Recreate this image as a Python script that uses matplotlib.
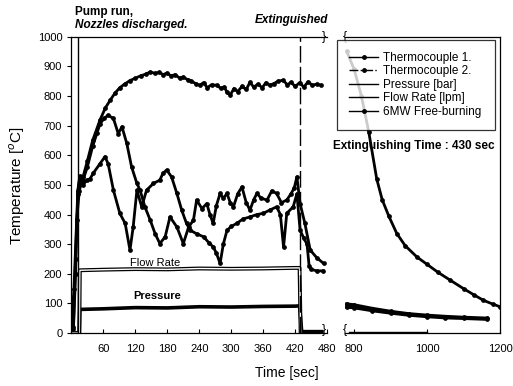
import numpy as np
import matplotlib
matplotlib.use('Agg')
import matplotlib.pyplot as plt
from matplotlib.lines import Line2D

plt.rcParams['font.family'] = ['Liberation Sans', 'DejaVu Sans']

# 热电偶1 (左段)
tc1_t = [0, 4, 8, 12, 16, 22, 30, 40, 48, 54, 62, 69, 79, 88, 95, 104, 113, 123, 129, 138,
         148, 157, 166, 176, 185, 198, 210, 220, 229, 235, 245, 254, 260, 266, 272, 279, 285,
         292, 298, 304, 312, 320, 328, 335, 342, 348, 356, 367, 376, 385, 394, 404, 412, 418,
         423, 429, 438, 448, 460, 473]
tc1_T = [5, 20, 250, 480, 530, 516, 560, 630, 674, 707, 725, 735, 724, 673, 696, 640, 561, 505,
         482, 426, 381, 336, 302, 325, 392, 358, 302, 358, 381, 449, 420, 437, 400, 370, 430,
         471, 455, 471, 440, 426, 470, 493, 440, 415, 450, 471, 455, 449, 480, 471, 440, 449,
         470, 490, 527, 437, 370, 280, 255, 235]
# 热电偶2 (左段)
tc2_t = [0, 4, 8, 12, 16, 22, 29, 35, 41, 54, 63, 69, 79, 91, 101, 110, 116, 123, 132, 141,
         154, 166, 172, 179, 188, 198, 207, 216, 223, 235, 248, 258, 266, 272, 279, 285, 292,
         300, 310, 322, 335, 348, 360, 372, 385, 392, 398, 404, 416, 423, 429, 436, 442, 446,
         450, 460, 472]
tc2_T = [5, 15, 200, 470, 527, 500, 516, 520, 539, 572, 595, 572, 482, 404, 370, 280, 358, 482,
         426, 482, 505, 516, 540, 550, 527, 471, 415, 370, 347, 335, 325, 305, 291, 270, 235,
         300, 347, 360, 370, 385, 392, 400, 404, 415, 426, 400, 290, 404, 426, 470, 347, 320,
         300, 225, 215, 210, 210]
# 6MW 自由燃烧
fb_t = [0, 5, 10, 15, 22, 30, 40, 54, 64, 73, 82, 91, 100, 110, 120, 130, 140, 148, 157, 165,
        172, 179, 187, 195, 203, 210, 218, 225, 233, 241, 248, 255, 263, 273, 280, 287, 292,
        298, 305, 312, 320, 328, 335, 342, 350, 358, 365, 372, 380, 388, 397, 405, 412, 420,
        428, 436, 444, 452, 460, 468]
fb_T = [20, 150, 380, 480, 527, 580, 650, 720, 760, 786, 810, 828, 840, 852, 860, 868, 874, 881,
        876, 880, 872, 877, 868, 872, 860, 864, 855, 850, 842, 836, 845, 828, 838, 836, 826,
        830, 812, 803, 825, 815, 832, 822, 846, 830, 840, 828, 845, 836, 842, 850, 853, 838,
        846, 832, 845, 830, 848, 836, 840, 836]
# 压力和流量
pr_t = [0, 15, 16, 60, 120, 180, 240, 300, 360, 420, 428, 432, 470]
pr_v = [0, 0, 80, 82, 86, 85, 89, 88, 90, 91, 92, 5, 5]
fl_t = [0, 15, 16, 60, 120, 180, 240, 300, 360, 420, 428, 430]
fl_v = [0, 0, 212, 214, 216, 215, 218, 217, 218, 220, 220, 0]

# 右段 (800~1200 s)
fb2_t = [780, 800, 820, 840, 862, 877, 895, 917, 940, 972, 1000, 1030, 1063, 1100, 1130, 1154, 1180, 1200]
fb2_T = [950, 890, 800, 680, 520, 450, 395, 336, 295, 257, 232, 205, 179, 150, 128, 111, 98, 89]
tc_r_t = [780, 800, 850, 900, 950, 1000, 1050, 1100, 1165]
tc1_r_T = [98, 95, 83, 73, 65, 60, 56, 53, 50]
tc2_r_T = [88, 86, 76, 68, 61, 56, 52, 50, 47]
pr_r_t = [785, 1000]
pr_r_v = [4, 4]

left_ticks = [60, 120, 180, 240, 300, 360, 420, 480]
right_ticks = [800, 1000, 1200]

fig = plt.figure(figsize=(5.13, 3.86), dpi=100)
ax1 = fig.add_axes([0.139, 0.137, 0.499, 0.768])
ax2 = fig.add_axes([0.6725, 0.137, 0.3022, 0.768])

ms = 2.4
ax1.plot(fb_t, fb_T, color='k', lw=2.0, marker='o', ms=ms)
ax1.plot(tc1_t, tc1_T, color='k', lw=2.0, marker='o', ms=ms)
ax1.plot(tc2_t, tc2_T, color='k', lw=2.0, marker='o', ms=ms)
ax1.plot(pr_t, pr_v, color='k', lw=2.6)
ax1.plot(fl_t, fl_v, color='k', lw=2.8)
ax1.plot(fl_t, fl_v, color='white', lw=1.0)
ax1.axvline(12, color='k', lw=1)
ax1.axvline(428, color='k', lw=1, ls=(0, (12, 3)))

ax2.plot(fb2_t, fb2_T, color='k', lw=2.0, marker='o', ms=ms)
ax2.plot(tc_r_t, tc1_r_T, color='k', lw=2.4, marker='o', ms=ms)
ax2.plot(tc_r_t, tc2_r_T, color='k', lw=2.4, marker='o', ms=ms)
ax2.plot(pr_r_t, pr_r_v, color='k', lw=1)

for ax in (ax1, ax2):
    ax.set_ylim(0, 1000)
    ax.tick_params(axis='x', direction='in', length=3, labelsize=8, pad=8)
    ax.tick_params(axis='y', direction='out', length=3, labelsize=8)
    for s in ax.spines.values():
        s.set_linewidth(0.9)

ax1.set_xlim(0, 480)
ax1.set_xticks(left_ticks)
ax1.set_yticks(range(0, 1001, 100))
ax1.spines['right'].set_visible(False)

ax2.set_xlim(775, 1200)
ax2.set_xticks(right_ticks)
ax2.spines['left'].set_visible(False)
ax2.tick_params(axis='y', left=False, labelleft=False)

# 断轴符号
ax1.text(0.985, 1.0, '}', transform=ax1.transAxes, ha='center', va='center', fontsize=9)
ax1.text(0.985, 0.012, '}', transform=ax1.transAxes, ha='center', va='center', fontsize=9)
ax2.text(0.0, 1.0, '{', transform=ax2.transAxes, ha='center', va='center', fontsize=9)
ax2.text(0.0, 0.012, '{', transform=ax2.transAxes, ha='center', va='center', fontsize=9)

ax1.text(110, 237, 'Flow Rate', fontsize=8, va='center')
ax1.text(116, 125, 'Pressure', fontsize=8, fontweight='bold', va='center')

fig.text(0.146, 0.969, 'Pump run,', fontsize=8.5, fontweight='bold', va='center')
fig.text(0.146, 0.935, 'Nozzles discharged.', fontsize=8.5, fontweight='bold',
         fontstyle='italic', va='center')
fig.text(0.497, 0.948, 'Extinguished', fontsize=8.5, fontweight='bold',
         fontstyle='italic', va='center')
fig.text(0.649, 0.622, 'Extinguishing Time : 430 sec', fontsize=8.5, fontweight='bold',
         va='center')
fig.text(0.033, 0.52, 'Temperature [$^o$C]', fontsize=11, rotation=90, ha='center', va='center')
fig.text(0.559, 0.034, 'Time [sec]', fontsize=10, ha='center', va='center')

handles = [
    Line2D([], [], color='k', lw=1, marker='o', ms=2.5),
    Line2D([], [], color='k', lw=1, ls='-.', marker='o', ms=2.5),
    Line2D([], [], color='k', lw=1),
    Line2D([], [], color='k', lw=1),
    Line2D([], [], color='k', lw=1, marker='o', ms=2.5),
]
labels = ['Thermocouple 1.', 'Thermocouple 2.', 'Pressure [bar]', 'Flow Rate [lpm]',
          '6MW Free-burning']
leg = fig.legend(handles, labels, loc='upper left',
                 bbox_to_anchor=(337 / 513, 1 - 131 / 386, 158 / 513, 91 / 386), mode='expand',
                 fontsize=8.5, frameon=True, fancybox=False, edgecolor='k',
                 handlelength=2.5, handletextpad=0.4, labelspacing=0.13,
                 borderpad=1.0, borderaxespad=0)
leg.get_frame().set_linewidth(0.9)

fig.savefig('out.png', dpi=100)
